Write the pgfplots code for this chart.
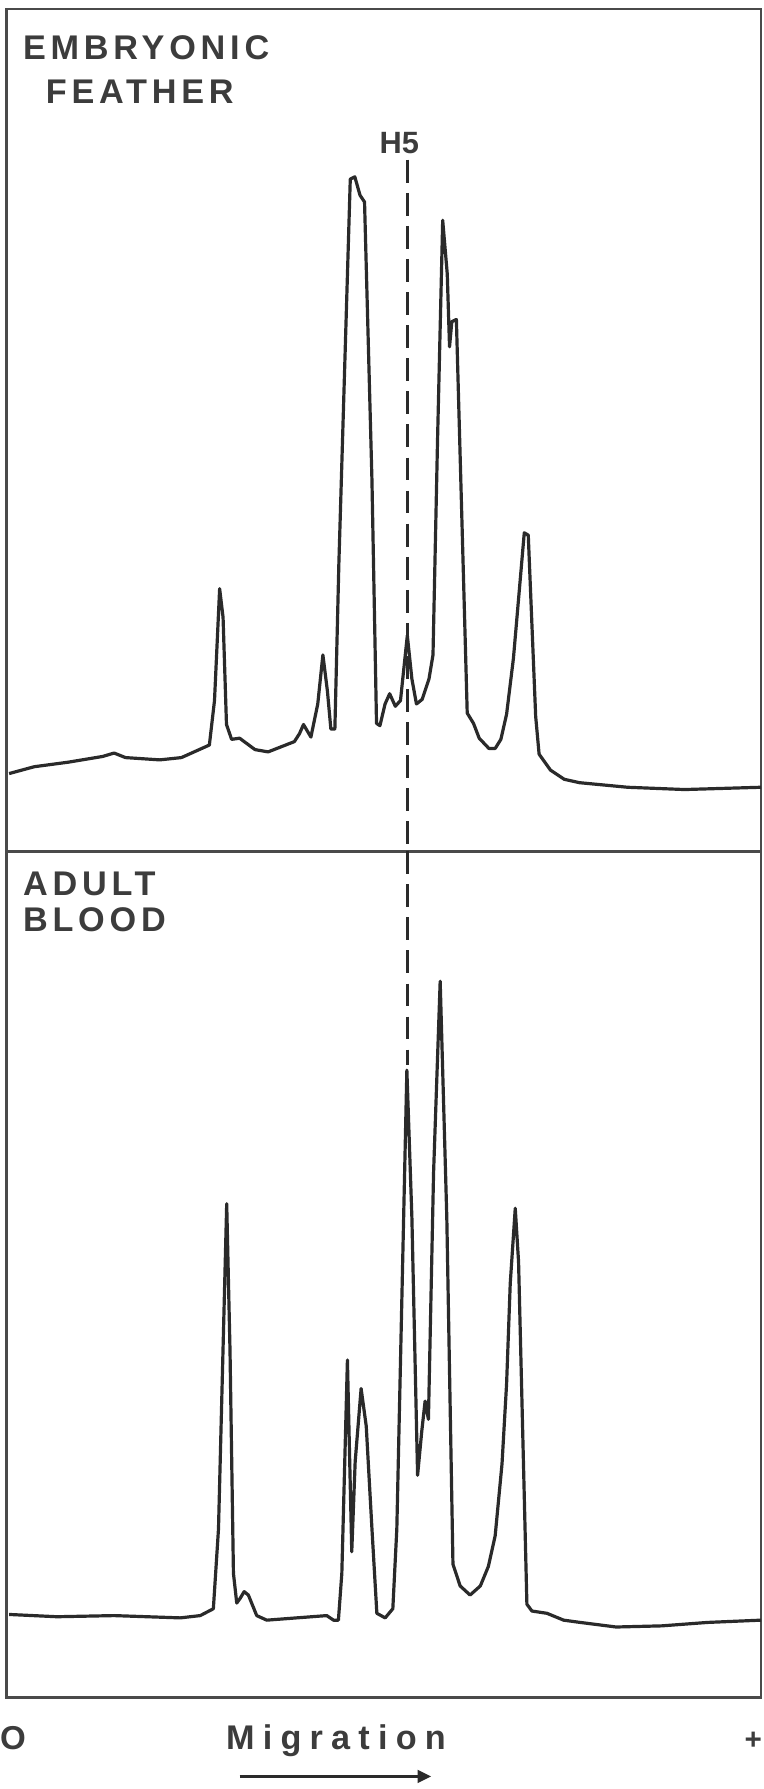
\documentclass[border=0pt]{standalone}
\usepackage{fontspec}
\setmainfont{Liberation Sans}
\newfontfamily\lab[LetterSpace=14]{Liberation Sans}
\newfontfamily\labw[LetterSpace=24]{Liberation Sans}
\usepackage{pgfplots}
\pgfplotsset{compat=1.18}
\usetikzlibrary{arrows.meta}
\definecolor{ink}{HTML}{2A2A2A}
\definecolor{frame}{HTML}{4A4A4A}
\definecolor{txt}{HTML}{3C3C3C}

\pgfplotstableread{
x y
8 68
30 74
60 78
90 83
100 86
110 82
140 80
159 82
183.5 93
188 132
192.5 230
195.5 205
198.5 111
203 98
210 99
223.5 89
235 87
258 96
262.5 103
266 111
272.5 100
278.5 129
283 172
287 140
290 107
293.5 107
297 252
307 589
311 591
315.5 575
319.5 569
326 325
330 112
333 110
337.5 129
341.5 138
346.5 127
351 132
357 189
361 151
365 129
370 133
376 151
379.5 172
383.5 361
388 553
392 506
394 442
396 464
400 466
409.5 121
415 112
420 99
428.5 90
434 90
439 98
444 120
450 169
459.5 279
463 277
469.5 118
472.5 85
482.5 71
494.5 63
508 60
550 56
600 54
667 56
}\feather

\pgfplotstableread{
x y
8 73
50 71
100 72
158 70
175.5 72
187 78
191.5 148
198.7 433
201.6 304
204.6 109
207.5 83
210.4 87
214 93
217.7 90
225 72
233.8 68
260 70
286.4 72
292.3 68
296.6 68
299.6 109
304.5 296
308.3 128
311.3 207
316.5 271
321 238
326 148
330.3 74
337.6 70
344.3 78
347.8 148
356.6 550
361 421
366 195
369.7 234
372.6 260
375.5 244
380 460
385.8 628
391.6 421
397 117
403.3 98
412 90
421 98
428 115
434 142
440 205
444 275
447.2 363
451.6 429
454.5 382
461.8 82
466.2 76
479.4 74
494 68
508.6 66
540 62
580 63
620 66
667 68
}\blood

\begin{document}
\begin{tikzpicture}[x=1pt,y=1pt]
\useasboundingbox (0,0) rectangle (669,-1568);
\pgfplotsset{panel/.style={
  scale only axis, width=661pt, xmin=6, xmax=667,
  axis line style={draw=frame, line width=2.4pt},
  xtick=\empty, ytick=\empty, clip=false}}
\begin{axis}[panel, at={(6pt,-746pt)}, anchor=south west,
  height=738pt, ymin=0, ymax=738]
\addplot[ink, line width=2.8pt, line join=round] table[x=x,y=y] {\feather};
\addplot[ink, line width=3pt, dash pattern=on 20pt off 9pt] coordinates {(357,606) (357,0)};
\end{axis}
\begin{axis}[panel, at={(6pt,-1488pt)}, anchor=south west,
  height=742pt, ymin=0, ymax=742]
\addplot[ink, line width=2.8pt, line join=round] table[x=x,y=y] {\blood};
\addplot[ink, line width=3pt, dash pattern=on 20pt off 9pt] coordinates {(357,742) (357,555)};
\end{axis}
\begin{scope}[every node/.style={inner sep=0pt, text=txt}]
\node[anchor=west] at (20,-42) {\lab\bfseries\fontsize{30}{36}\selectfont EMBRYONIC};
\node[anchor=west] at (40,-80) {\lab\bfseries\fontsize{30}{36}\selectfont FEATHER};
\node[anchor=center] at (350,-125) {\bfseries\fontsize{27}{32}\selectfont H5};
\node[anchor=west] at (20,-775) {\lab\bfseries\fontsize{30}{36}\selectfont ADULT};
\node[anchor=west] at (20,-806) {\lab\bfseries\fontsize{30}{36}\selectfont BLOOD};
\node[anchor=base west] at (0,-1533) {\bfseries\fontsize{29}{34}\selectfont O};
\node[anchor=base west] at (198,-1533) {\labw\bfseries\fontsize{30}{36}\selectfont Migration};
\node[anchor=base east] at (668,-1533) {\bfseries\fontsize{26}{32}\selectfont +};
\end{scope}
\draw[ink, line width=2.6pt, -{Triangle[length=12pt,width=11pt]}] (210,-1557) -- (378,-1557);
\end{tikzpicture}
\end{document}
